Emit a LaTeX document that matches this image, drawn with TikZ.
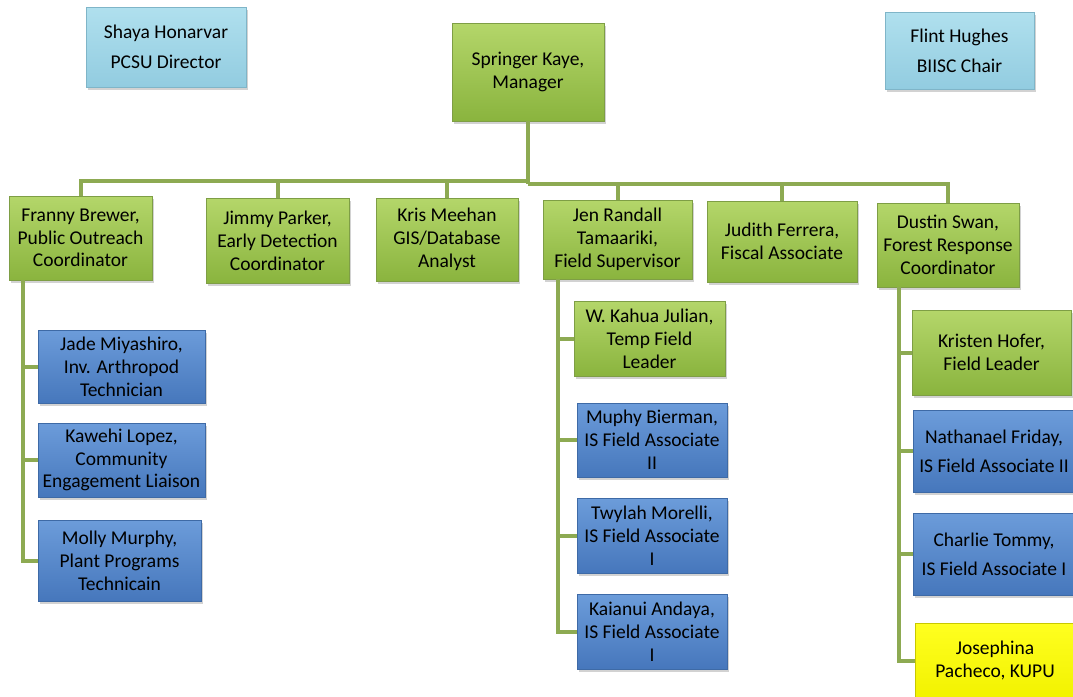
\documentclass[tikz,border=0pt]{standalone}
\usepackage{fontspec}
\setmainfont{Carlito}
\usetikzlibrary{shadows}
\definecolor{gtop}{HTML}{B4D66A}
\definecolor{gbot}{HTML}{8AB43E}
\definecolor{gedge}{HTML}{7E9E45}
\definecolor{btop}{HTML}{6C9CDA}
\definecolor{bbot}{HTML}{4677BC}
\definecolor{bedge}{HTML}{3E6AA6}
\definecolor{ltop}{HTML}{B0E0EE}
\definecolor{lbot}{HTML}{92CCE0}
\definecolor{ledge}{HTML}{7FB5C8}
\definecolor{ytop}{HTML}{FFFF20}
\definecolor{ybot}{HTML}{F2F200}
\definecolor{yedge}{HTML}{C8C800}
\definecolor{connc}{HTML}{8DAA52}
\tikzset{
  box/.style={rectangle, inner sep=0pt, align=center, text=black,
    font=\fontsize{19.5}{22.8}\selectfont, line width=0.7pt,
    drop shadow={shadow xshift=1.5pt, shadow yshift=-2.5pt, opacity=0.35}},
  gbox/.style={box, draw=gedge, top color=gtop, bottom color=gbot},
  bbox/.style={box, draw=bedge, top color=btop, bottom color=bbot},
  lbox/.style={box, draw=ledge, top color=ltop, bottom color=lbot},
  ybox/.style={box, draw=yedge, top color=ytop, bottom color=ybot},
  conn/.style={draw=connc, line width=4pt},
}
\begin{document}
\begin{tikzpicture}[x=1pt, y=-1pt]
\useasboundingbox (0,0) rectangle (1073,696);
\fill[white] (0,0) rectangle (1073,696);

\coordinate (hubL) at (528,181);
\coordinate (hubR) at (528,184);
\coordinate (ft) at (23,280);
\coordinate (jt) at (558,279);
\coordinate (dt) at (899,287);

% top row
\node[lbox, minimum width=160, minimum height=80] (shaya) at (166,47) {Shaya Honarvar\\[7pt]PCSU Director};
\node[gbox, minimum width=152, minimum height=98] (mgr) at (528,72) {Springer Kaye,\\Manager};
\node[lbox, minimum width=149, minimum height=77] (flint) at (959.5,50.5) {Flint Hughes\\[7pt]BIISC Chair};

% second row
\node[gbox, minimum width=143, minimum height=84] (franny) at (80.5,238) {Franny Brewer,\\Public Outreach\\Coordinator};
\node[gbox, minimum width=143, minimum height=85] (jimmy) at (277.5,240.5) {Jimmy Parker,\\Early Detection\\Coordinator};
\node[gbox, minimum width=142, minimum height=83] (kris) at (447,239.5) {Kris Meehan\\GIS/Database\\Analyst};
\node[gbox, minimum width=149, minimum height=79] (jen) at (617.5,239.5) {Jen Randall\\Tamaariki,\\Field Supervisor};
\node[gbox, minimum width=150, minimum height=81] (judith) at (782,241.5) {Judith Ferrera,\\Fiscal Associate};
\node[gbox, minimum width=142, minimum height=84] (dustin) at (948,245) {Dustin Swan,\\Forest Response\\Coordinator};

% Franny's team
\node[bbox, minimum width=167, minimum height=73] (jade) at (121.5,366.5) {Jade Miyashiro,\\Inv. Arthropod\\Technician};
\node[bbox, minimum width=167, minimum height=74] (kawehi) at (121.5,460) {Kawehi Lopez,\\Community\\Engagement Liaison};
\node[bbox, minimum width=163, minimum height=81] (molly) at (119.5,560.5) {Molly Murphy,\\Plant Programs\\Technicain};

% Jen's team
\node[gbox, minimum width=151, minimum height=75] (kahua) at (649.5,338.5) {W. Kahua Julian,\\Temp Field\\Leader};
\node[bbox, minimum width=150, minimum height=74] (muphy) at (652,440) {Muphy Bierman,\\IS Field Associate\\II};
\node[bbox, minimum width=150, minimum height=75] (twylah) at (652,535.5) {Twylah Morelli,\\IS Field Associate\\I};
\node[bbox, minimum width=150, minimum height=75] (kaianui) at (652,631.5) {Kaianui Andaya,\\IS Field Associate\\I};

% Dustin's team
\node[gbox, minimum width=159, minimum height=85] (kristen) at (991.5,352.5) {Kristen Hofer,\\Field Leader};
\node[bbox, minimum width=162, minimum height=82] (nathanael) at (994,451) {Nathanael Friday,\\[6pt]IS Field Associate II};
\node[bbox, minimum width=162, minimum height=82] (charlie) at (994,554) {Charlie Tommy,\\[6pt]IS Field Associate I};
\node[ybox, minimum width=160, minimum height=75] (josephina) at (995,660.5) {Josephina\\Pacheco, KUPU};

% connectors
\draw[conn] (mgr.south) -- (hubR);
\draw[conn] (franny.north) |- (hubL);
\draw[conn] (jimmy.north) -- (jimmy.north |- hubL);
\draw[conn] (kris.north) -- (kris.north |- hubL);
\draw[conn] (dustin.north) |- (hubR);
\draw[conn] (jen.north) -- (jen.north |- hubR);
\draw[conn] (judith.north) -- (judith.north |- hubR);

\draw[conn] (ft) |- (molly.west);
\draw[conn] (ft |- jade.west) -- (jade.west);
\draw[conn] (ft |- kawehi.west) -- (kawehi.west);

\draw[conn] (jt) |- (kaianui.west);
\draw[conn] (jt |- kahua.west) -- (kahua.west);
\draw[conn] (jt |- muphy.west) -- (muphy.west);
\draw[conn] (jt |- twylah.west) -- (twylah.west);

\draw[conn] (dt) |- (josephina.west);
\draw[conn] (dt |- kristen.west) -- (kristen.west);
\draw[conn] (dt |- nathanael.west) -- (nathanael.west);
\draw[conn] (dt |- charlie.west) -- (charlie.west);
\end{tikzpicture}
\end{document}
